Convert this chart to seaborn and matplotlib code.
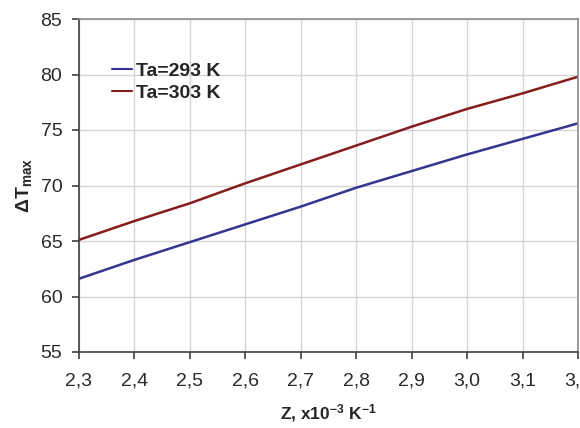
import numpy as np
import pandas as pd
import matplotlib
matplotlib.use("Agg")
import matplotlib.pyplot as plt
import seaborn as sns
from matplotlib.ticker import FuncFormatter

# Data
z_values = [2.3, 2.4, 2.5, 2.6, 2.7, 2.8, 2.9, 3.0, 3.1, 3.2]
dt_293 = [61.6, 63.3, 64.9, 66.5, 68.1, 69.8, 71.3, 72.8, 74.2, 75.6]
dt_303 = [65.1, 66.8, 68.4, 70.2, 71.9, 73.6, 75.3, 76.9, 78.3, 79.8]
series_names = ["Ta=293 K", "Ta=303 K"]
x_ticks = [2.3, 2.4, 2.5, 2.6, 2.7, 2.8, 2.9, 3.0, 3.1, 3.2]
y_ticks = [55, 60, 65, 70, 75, 80, 85]

df = pd.DataFrame({
    "Z": z_values * 2,
    "dT": dt_293 + dt_303,
    "series": [series_names[0]] * len(z_values) + [series_names[1]] * len(z_values),
})

sns.set_style("white")
plt.rcParams['font.family'] = ['Liberation Sans', 'DejaVu Sans']
plt.rcParams['mathtext.fontset'] = 'custom'
plt.rcParams['mathtext.rm'] = 'Liberation Sans'
plt.rcParams['mathtext.bf'] = 'Liberation Sans:bold'
plt.rcParams['mathtext.default'] = 'bf'

fig = plt.figure(figsize=(5.8, 4.28), dpi=100)
ax = fig.add_axes([79 / 580, 1 - 352 / 428, (578 - 79) / 580, (352 - 19) / 428])

palette = {series_names[0]: "#35358f", series_names[1]: "#861c1c"}
sns.lineplot(data=df, x="Z", y="dT", hue="series", palette=palette,
             linewidth=1.8, ax=ax, legend=True)

ax.set_xlim(x_ticks[0], x_ticks[-1])
ax.set_ylim(y_ticks[0], y_ticks[-1])
ax.set_xticks(x_ticks)
ax.set_yticks(y_ticks)
ax.xaxis.set_major_formatter(FuncFormatter(lambda v, p: f"{v:.1f}".replace(".", ",")))
ax.yaxis.set_major_formatter(FuncFormatter(lambda v, p: f"{int(round(v))}"))

ax.grid(True, color="#d4d4d4", linewidth=1.0)
ax.set_axisbelow(True)

for side in ["top", "right"]:
    ax.spines[side].set_color("#8c8c8c")
    ax.spines[side].set_linewidth(1.2)
for side in ["left", "bottom"]:
    ax.spines[side].set_color("#404040")
    ax.spines[side].set_linewidth(1.2)

ax.tick_params(axis="both", which="major", direction="out", length=5, width=1.2,
               color="#404040", labelsize=14, labelcolor="#2a2a2a", pad=7)
ax.tick_params(axis="x", pad=10)
ax.tick_params(left=True, bottom=True)

ax.set_xlabel(r"Z, x10$^{-3}$ K$^{-1}$", fontsize=12.5, fontweight="bold",
              labelpad=9)
ax.set_ylabel(r"$\Delta$T$_{max}$", fontsize=14, fontweight="bold", labelpad=5)

leg = ax.legend(loc="upper left", bbox_to_anchor=(0.066, 0.87), frameon=False,
                fontsize=14, handlelength=1.05, handletextpad=0.2, labelspacing=0.22,
                borderaxespad=0, borderpad=0)
for t in leg.get_texts():
    t.set_fontweight("bold")
for l in leg.get_lines():
    l.set_linewidth(1.5)

fig.savefig("out.png", dpi=100, facecolor="white")
